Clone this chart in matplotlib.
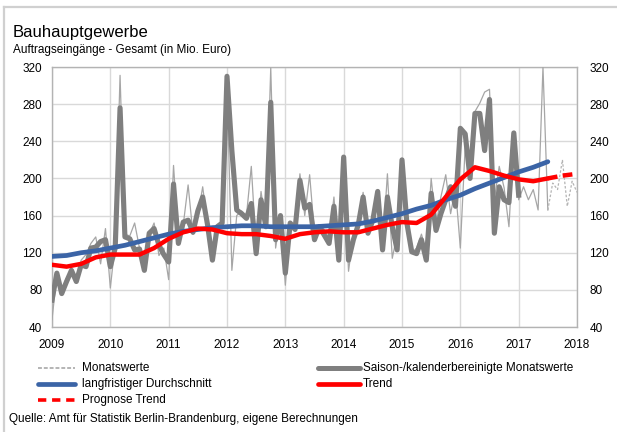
import matplotlib
matplotlib.use('Agg')
import matplotlib.pyplot as plt
import numpy as np
from matplotlib.lines import Line2D

plt.rcParams['font.family'] = ['Liberation Sans', 'DejaVu Sans']

# ---------------- data (monthly, starting Jan 2009) ----------------
start_year = 2009
# Monatswerte (raw monthly values), Jan 2009 .. Jul 2017
monatswerte = [
    48, 96, 80, 93, 100, 92, 112, 118, 130, 137, 108, 146,      # 2009
    82, 130, 311, 140, 138, 152, 125, 118, 140, 152, 117, 125,  # 2010
    91, 214, 135, 150, 193, 140, 160, 191, 150, 118, 150, 148,  # 2011
    305, 101, 160, 165, 160, 213, 125, 186, 150, 319, 125, 160, # 2012
    85, 150, 150, 205, 160, 204, 140, 150, 145, 135, 180, 112,  # 2013
    215, 100, 140, 150, 185, 140, 150, 185, 125, 205, 114, 140, # 2014
    205, 150, 120, 125, 140, 120, 200, 150, 180, 204, 162, 190, # 2015
    125, 235, 215, 272, 281, 293, 296, 177, 213, 190, 148, 241, # 2016
    177, 191, 177, 188, 166, 320, 166,                          # 2017
]
# Monatswerte forecast (dotted), Jul 2017 .. Jan 2018
monatswerte_prognose_start = 102
monatswerte_prognose = [166, 195, 188, 220, 170, 197, 185]

# Saison-/kalenderbereinigte Monatswerte, Jan 2009 .. Jan 2017
saisonbereinigt = [
    69, 98, 76, 89, 101, 89, 107, 105, 125, 126, 132, 134,      # 2009
    105, 125, 276, 137, 135, 123, 124, 101, 141, 146, 128, 118, # 2010
    110, 194, 130, 153, 155, 142, 165, 180, 150, 112, 148, 152, # 2011
    310, 230, 166, 162, 157, 173, 119, 177, 148, 282, 134, 160, # 2012
    98, 152, 145, 198, 168, 172, 134, 148, 139, 130, 170, 112,  # 2013
    223, 112, 134, 150, 180, 141, 155, 186, 123, 180, 148, 123, # 2014
    220, 152, 121, 119, 134, 112, 184, 144, 162, 177, 191, 170, # 2015
    254, 248, 200, 270, 270, 230, 285, 141, 191, 177, 174, 249, # 2016
    182,                                                        # 2017
]

# quarterly readings of the smooth lines (every 3 months from Jan 2009)
smooth_step = 3
langfristig = [116, 117, 120, 122, 125, 128, 132, 136, 140, 143, 145, 147,
               148, 149, 149, 148, 148, 148, 148, 149, 150, 151, 154, 158,
               162, 167, 171, 177, 182, 189, 195, 201, 207, 212, 218]
trend = [107, 105, 108, 115, 118, 118, 118, 125, 135, 142, 146, 145,
         141, 140, 140, 138, 135, 140, 142, 143, 142, 142, 146, 150,
         153, 152, 161, 180, 199, 212, 208, 203, 199, 197, 200]
trend_prognose_start = 102
trend_prognose = [200, 203, 205]

year_ticks = list(range(2009, 2019))
y_ticks = [40, 80, 120, 160, 200, 240, 280, 320]


def months_to_x(first_month, n, step=1):
    return start_year + (first_month + np.arange(n) * step) / 12.0


# ---------------- figure ----------------
W, H = 617, 432
fig = plt.figure(figsize=(W / 100, H / 100), dpi=100)
ax = fig.add_axes([52 / W, (H - 327) / H, 525 / W, 260 / H])

c_thin = '#a6a6a6'
c_thick = '#7f7f7f'
c_blue = '#3b64a6'
c_red = '#ff0000'

ax.plot(months_to_x(0, len(monatswerte)), monatswerte, color=c_thin, lw=0.9, zorder=3)
ax.plot(months_to_x(monatswerte_prognose_start, len(monatswerte_prognose)),
        monatswerte_prognose, color='#b4b4b4', lw=0.9, ls=(0, (2, 1.5)), zorder=3)
ax.plot(months_to_x(0, len(saisonbereinigt)), saisonbereinigt, color=c_thick,
        lw=3.7, solid_joinstyle='round', zorder=4)
ax.plot(months_to_x(0, len(langfristig), smooth_step), langfristig, color=c_blue,
        lw=3.4, solid_capstyle='round', solid_joinstyle='round', zorder=5)
ax.plot(months_to_x(0, len(trend), smooth_step), trend, color=c_red,
        lw=3.2, solid_capstyle='round', solid_joinstyle='round', zorder=6)
ax.plot(months_to_x(trend_prognose_start, len(trend_prognose), smooth_step), trend_prognose,
        color=c_red, lw=3.2, ls=(0, (2.2, 1.2)), zorder=6)

ax.set_xlim(year_ticks[0], year_ticks[-1])
ax.set_ylim(y_ticks[0], y_ticks[-1])
ax.set_xticks(year_ticks)
ax.set_yticks(y_ticks)
ax.grid(True, color='#d9d9d9', lw=1.0, zorder=0)
ax.set_axisbelow(True)
for s in ax.spines.values():
    s.set_color('#b3b3b3')
    s.set_linewidth(1.0)
ax.tick_params(axis='both', length=0, labelsize=8.5, colors='black')
ax.tick_params(axis='x', pad=9)
ax.tick_params(axis='y', pad=7)

ax2 = ax.twinx()
ax2.set_ylim(y_ticks[0], y_ticks[-1])
ax2.set_yticks(y_ticks)
ax2.tick_params(axis='y', length=0, labelsize=8.5, pad=9)
for s in ax2.spines.values():
    s.set_visible(False)

# outer frame (top and left visible)
fig.add_artist(Line2D([4 / W, 1.0], [1 - 7 / H, 1 - 7 / H], transform=fig.transFigure,
                      color='#d0d0d0', lw=1.6))
fig.add_artist(Line2D([4 / W, 4 / W], [0.0, 1 - 7 / H], transform=fig.transFigure,
                      color='#d0d0d0', lw=1.6))

# titles
fig.text(13 / W, 1 - 37 / H, 'Bauhauptgewerbe', fontsize=12, va='baseline')
fig.text(13 / W, 1 - 53 / H, 'Auftragseingänge - Gesamt (in Mio. Euro)', fontsize=8.5,
         va='baseline')

# legend (manual, Excel-like layout)
legend_items = [
    (38, 75, 82, 368, dict(color='#b4b4b4', lw=1.4, ls=(0, (2, 1))), 'Monatswerte'),
    (38, 75, 82, 384, dict(color=c_blue, lw=3.4, solid_capstyle='round'), 'langfristiger Durchschnitt'),
    (38, 75, 82, 400, dict(color=c_red, lw=2.6, ls=(0, (2.3, 1.6))), 'Prognose Trend'),
    (318, 360, 363, 368, dict(color=c_thick, lw=3.6, solid_capstyle='round'), 'Saison-/kalenderbereinigte Monatswerte'),
    (318, 360, 363, 384, dict(color=c_red, lw=3.4, solid_capstyle='round'), 'Trend'),
]
for x0, x1, xt, y, style, label in legend_items:
    fig.add_artist(Line2D([x0 / W, x1 / W], [1 - y / H, 1 - y / H],
                          transform=fig.transFigure, **style))
    fig.text(xt / W, 1 - y / H, label, fontsize=8.5, va='center')

fig.text(9 / W, 1 - 419 / H, 'Quelle: Amt für Statistik Berlin-Brandenburg, eigene Berechnungen',
         fontsize=8.5, va='center')

fig.savefig('out.png', dpi=100)
